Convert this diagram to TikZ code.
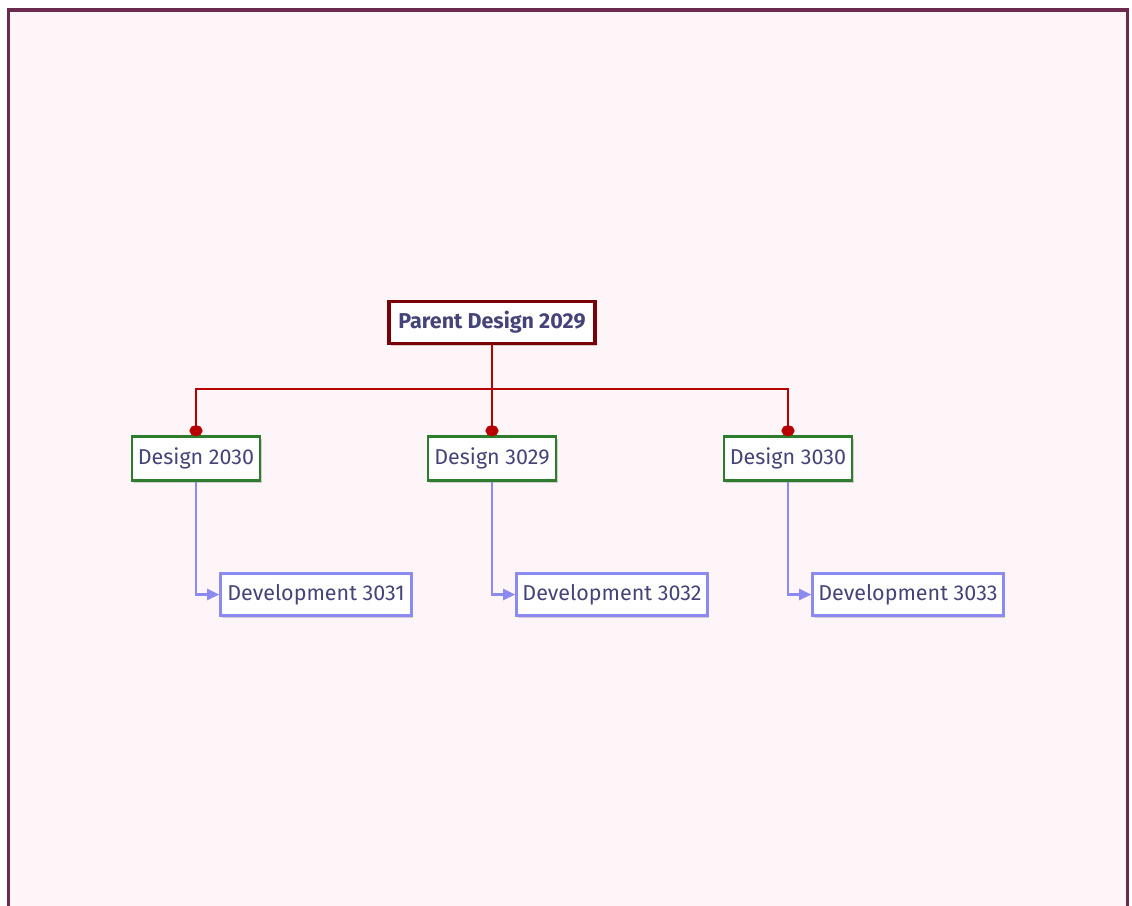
\documentclass[tikz,border=0pt]{standalone}
\usepackage{fontspec}
\setmainfont{Fira Sans}
\usetikzlibrary{arrows.meta,shadows}
\definecolor{framec}{HTML}{6B2A4E}
\definecolor{bgc}{HTML}{FDF5F7}
\definecolor{txtc}{HTML}{44447A}
\definecolor{parentc}{HTML}{7A0008}
\definecolor{redline}{HTML}{B80000}
\definecolor{greenc}{HTML}{2E7D2E}
\definecolor{lavc}{HTML}{8A8AF0}
\tikzset{
  box/.style={draw, fill=white, inner sep=0pt, align=center, text=txtc,
    font=\fontsize{21.5}{24}\selectfont,
    drop shadow={shadow xshift=1.5pt, shadow yshift=-2pt, fill=black!35, opacity=0.5}},
  parentbox/.style={box, draw=parentc, line width=3.4pt, minimum width=206pt, minimum height=42pt,
    font=\fontsize{21.5}{24}\selectfont\bfseries},
  designbox/.style={box, draw=greenc, line width=2.6pt, minimum width=128pt, minimum height=44pt},
  devbox/.style={box, draw=lavc, line width=2.6pt, minimum width=191pt, minimum height=42pt},
  treeline/.style={draw=redline, line width=2.8pt, -{Circle[length=11pt, width=13pt, fill=redline]}},
  devline/.style={draw=lavc, line width=2.4pt, -{Triangle[length=12pt, width=11pt]}},
}
\begin{document}
\begin{tikzpicture}[x=1pt, y=-1pt]
  \useasboundingbox (0,0) rectangle (1132,905);
  \fill[white] (0,0) rectangle (1132,905);
  \draw[framec, line width=3.5pt, fill=bgc] (8.5,10) rectangle (1127.5,915);

  \node[parentbox] (p) at (492,322.5) {Parent Design 2029};

  \node[designbox] (d1) at (196,458.5) {Design 2030};
  \node[designbox] (d2) at (492,458.5) {Design 3029};
  \node[designbox] (d3) at (788,458.5) {Design 3030};

  \node[devbox] (v1) at (316,594.5) {Development 3031};
  \node[devbox] (v2) at (612,594.5) {Development 3032};
  \node[devbox] (v3) at (908,594.5) {Development 3033};

  \coordinate (bus) at (492,389);
  \draw[redline, line width=2.8pt] (p.south) -- (bus);
  \foreach \d in {d1,d2,d3}
    \draw[treeline] (bus) -| ([yshift=-1pt]\d.north);

  \foreach \d/\v in {d1/v1,d2/v2,d3/v3}
    \draw[devline] (\d.south) |- (\v.west);
\end{tikzpicture}
\end{document}
